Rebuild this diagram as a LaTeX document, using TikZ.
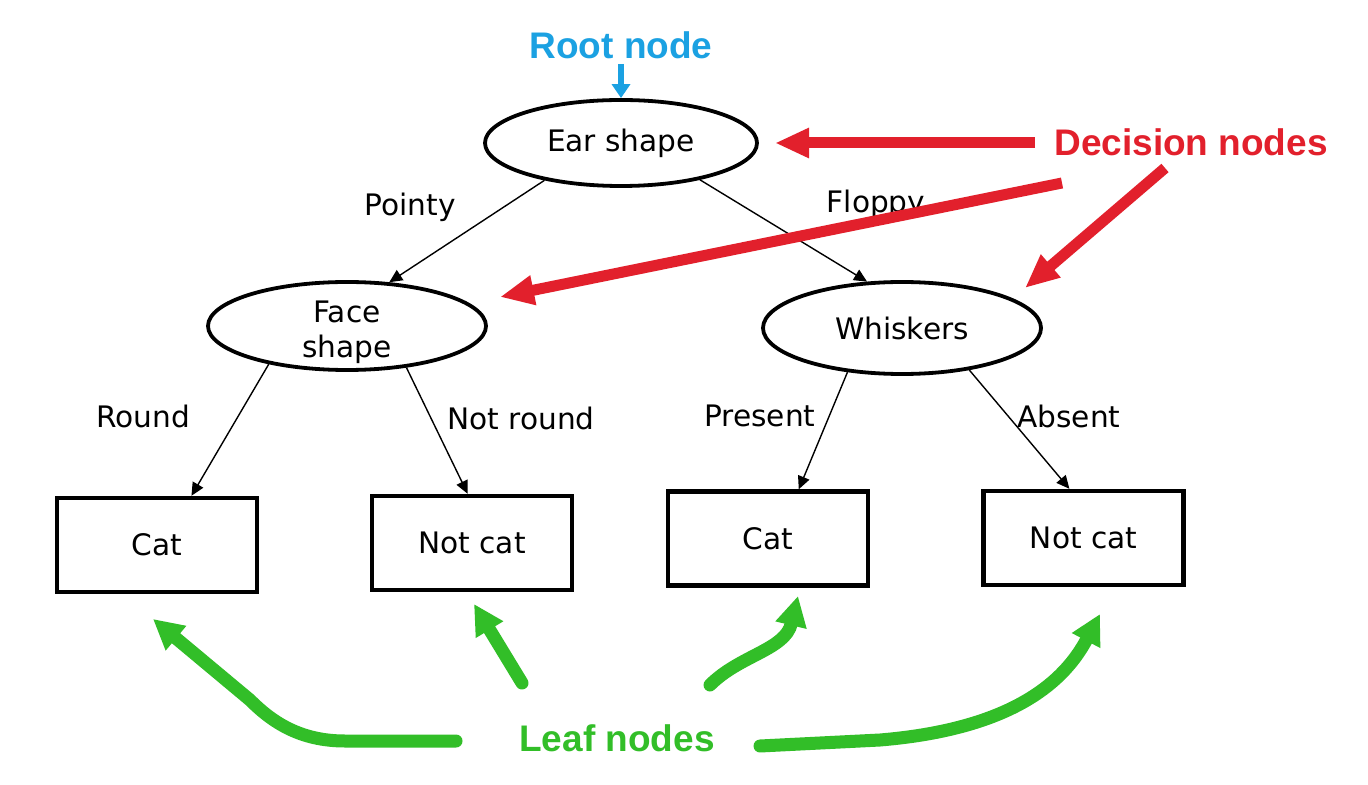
\documentclass[tikz,border=0pt]{standalone}
\usepackage{fontspec}
\setmainfont{DejaVu Sans}
\newfontfamily\annfont{Liberation Sans}
\usetikzlibrary{arrows.meta,shapes.geometric,calc}
\definecolor{annred}{RGB}{226,32,44}
\definecolor{annblue}{RGB}{27,161,226}
\definecolor{anngreen}{RGB}{50,190,40}
\newcommand\treefont{\fontsize{14.8}{17.5}\selectfont}
\newcommand\annsize{\annfont\bfseries\fontsize{18.5}{22}\selectfont}
\tikzset{
  decision/.style={ellipse, draw, line width=1.9pt, inner sep=0pt, font=\treefont, align=center},
  leafbox/.style={rectangle, draw, line width=2.2pt, minimum width=100pt, minimum height=47pt, inner sep=0pt, font=\treefont},
  edge/.style={line width=0.7pt, -{Triangle[length=6.5pt,width=6pt]}},
  lbl/.style={font=\treefont, inner sep=0pt},
  ann/.style={font=\annsize, inner sep=0pt},
  redarrow/.style={draw=annred, line width=5.5pt, -{Triangle[length=17pt,width=14pt]}},
  greenarrow/.style={draw=anngreen, line width=6.5pt, line cap=round, -{Triangle[length=15pt,width=15pt]}},
}
\begin{document}
\begin{tikzpicture}[x=0.5pt,y=-0.5pt]
\useasboundingbox[fill=white] (0,0) rectangle (1368,785);

% tree nodes
\node[decision, minimum width=136pt, minimum height=43pt] (ear) at (621,143) {Ear shape};
\node[decision, inner sep=-8pt, minimum width=139pt, minimum height=44pt] (face) at (347,326) {\rule{0pt}{17pt}Face\\shape};
\node[decision, minimum width=139pt, minimum height=46pt] (whisk) at (902,328) {Whiskers};
\node[leafbox] (cat1) at (157,545) {Cat};
\node[leafbox] (notcat1) at (472,543) {Not cat};
\node[leafbox] (cat2) at (768,538.5) {Cat};
\node[leafbox] (notcat2) at (1083.5,538) {Not cat};

% tree edges
\draw[edge] (ear.206) -- (face.46);
\draw[edge] (ear.335) -- (whisk.127);
\draw[edge] (face.206) -- (cat1.55);
\draw[edge] (face.325) -- (notcat1.95);
\draw[edge] (whisk.219) -- (cat2.58);
\draw[edge] (whisk.328) -- (notcat2.106);

% edge labels
\node[lbl] (lpointy) at (410,207) {Pointy};
\node[lbl] (lfloppy) at (876,204) {Floppy};
\node[lbl] (lround) at (143,416) {Round};
\node[lbl] (lnotround) at (521,418) {Not round};
\node[lbl] (lpresent) at (760,416) {Present};
\node[lbl] (labsent) at (1069,416) {Absent};

% annotations
\node[ann, text=annblue] (root) at (621,45) {Root node};
\node[ann, text=annred] (dec) at (1191,142) {Decision nodes};
\node[ann, text=anngreen] (leaf) at (617,738) {Leaf nodes};

\coordinate (rootfrom) at (621,64);
\draw[draw=annblue, line width=3pt, -{Triangle[length=7pt,width=9pt]}] (rootfrom) -- (ear.north);

\coordinate (r1s) at (1035,143);
\coordinate (r1e) at (775,143);
\coordinate (r2s) at (1062,183);
\coordinate (r2e) at (500,297);
\coordinate (r3s) at (1165,168);
\coordinate (r3e) at (1025,288);
\draw[redarrow] (r1s) -- (r1e);
\draw[redarrow] (r2s) -- (r2e);
\draw[redarrow] (r3s) -- (r3e);

\coordinate (g1s) at (456,741);
\coordinate (g1e) at (153,619);
\coordinate (g2s) at (522,683);
\coordinate (g2e) at (474,604);
\coordinate (g3s) at (710,685);
\coordinate (g3e) at (798,596);
\coordinate (g4s) at (760,746);
\coordinate (g4e) at (1100,614);
\draw[greenarrow] (g1s) -- (345,741) .. controls (300,741) and (272,722) .. (250,700) -- (g1e);
\draw[greenarrow] (g2s) -- (g2e);
\draw[greenarrow] (g3s) .. controls (740,655) and (785,650) .. (g3e);
\draw[greenarrow] (g4s) -- (880,740) .. controls (1000,730) and (1060,690) .. (g4e);
\end{tikzpicture}
\end{document}
